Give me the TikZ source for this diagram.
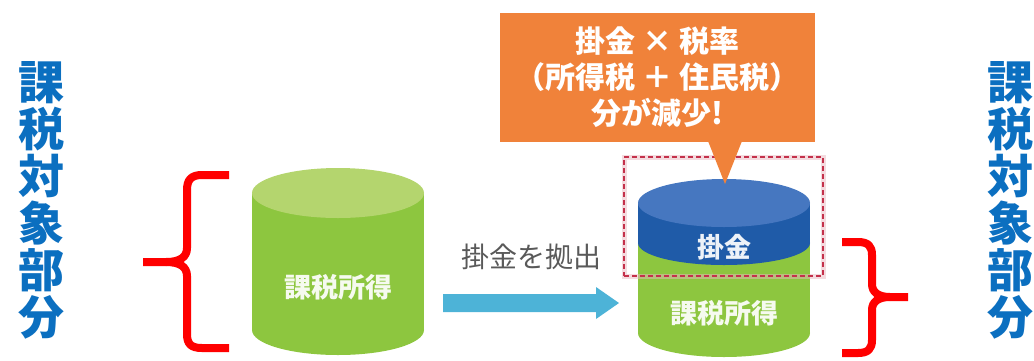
\documentclass[tikz,border=0pt]{standalone}
\usepackage{fontspec}
\newfontfamily\jp{Noto Sans CJK JP}
\definecolor{labelblue}{HTML}{0B6FC0}
\definecolor{bracered}{HTML}{FF0000}
\definecolor{cylgreen}{HTML}{8DC63F}
\definecolor{cylgreentop}{HTML}{B4D56E}
\definecolor{bandblue}{HTML}{1F5BA8}
\definecolor{bandbluetop}{HTML}{4677C0}
\definecolor{calloutorange}{HTML}{F0823A}
\definecolor{arrowblue}{HTML}{4DB3D7}
\definecolor{dashred}{HTML}{C4314B}
\definecolor{textgray}{HTML}{595959}
\tikzset{
  sidelabel/.style={text=labelblue, font=\jp\bfseries\fontsize{46}{47}\selectfont, align=center, inner sep=0pt},
  brace/.style={draw=bracered, line width=8pt, line join=round, line cap=butt},
  cyltext/.style={text=white, text opacity=0.92, font=\jp\bfseries\fontsize{27}{30}\selectfont, inner sep=0pt},
  calloutbox/.style={fill=calloutorange, inner sep=0pt, minimum width=315pt, minimum height=129pt,
    text=white, font=\jp\bfseries\fontsize{30}{36}\selectfont, align=center},
  focusbox/.style={draw=dashred, line width=2pt, dash pattern=on 5pt off 3pt, minimum width=199pt, minimum height=119pt, inner sep=0pt},
  steplabel/.style={text=textgray, font=\jp\fontsize{28}{30}\selectfont, inner sep=0pt}
}
\begin{document}
\begin{tikzpicture}[x=1pt,y=-1pt]
\useasboundingbox (0,0) rectangle (1034,360);

% side captions
\node[sidelabel] (lcap) at (42,200) {課\\税\\対\\象\\部\\分};
\node[sidelabel] (rcap) at (1010,200) {課\\税\\対\\象\\部\\分};

% left brace
\draw[brace] (229,175) -- (202,175) .. controls (191,175) and (187,180) .. (187,190) -- (187,248)
  .. controls (187,257) and (180,262) .. (166,262) -- (143,262);
\draw[brace] (166,262) .. controls (180,262) and (187,267) .. (187,276) -- (187,334)
  .. controls (187,344) and (191,348) .. (202,348) -- (229,348);

% right brace
\draw[brace] (842,242) -- (858,242) .. controls (868,242) and (872,246) .. (872,255) -- (872,284)
  .. controls (872,292) and (878,297) .. (890,297) -- (908,297);
\draw[brace] (890,297) .. controls (878,297) and (872,302) .. (872,310) -- (872,340)
  .. controls (872,349) and (868,353) .. (858,353) -- (842,353);

% left cylinder: taxable income
\fill[cylgreen] (252,193) rectangle (424,330);
\fill[cylgreen] (338,330) ellipse[x radius=86, y radius=25];
\fill[cylgreentop] (338,193) ellipse[x radius=86, y radius=25];
\node[cyltext] (lincome) at (338,287) {課税所得};

% right cylinder: taxable income with the premium band on top
\fill[cylgreen] (638,243) rectangle (810,333);
\fill[cylgreen] (724,333) ellipse[x radius=86, y radius=24];
\fill[bandblue] (724,243) ellipse[x radius=86, y radius=22];
\fill[bandblue] (638,203) rectangle (810,243);
\fill[bandbluetop] (724,203) ellipse[x radius=86, y radius=24];
\node[cyltext] (premium) at (724,247) {掛金};
\node[cyltext] (rincome) at (724,313) {課税所得};

% highlighted premium region
\node[draw=dashred!35, line width=5pt, opacity=0.5, minimum width=199pt, minimum height=119pt, inner sep=0pt] at (723.5,216.5) {};
\node[focusbox] (focus) at (723.5,216.5) {};

% contribution arrow
\coordinate (arrtail) at (443,303);
\coordinate (arrhead) at (619,303);
\fill[arrowblue] (arrtail) ++(0,-9) -- ++(153,0) -- ++(0,-7) -- (arrhead) -- ++(-23,16) -- ++(0,-7) -- ++(-153,0) -- cycle;
\node[steplabel] (contrib) at (531,257) {掛金を拠出};

% callout
\node[calloutbox] (callout) at (657.5,77.5) {掛金 × 税率\\（所得税 ＋ 住民税）\\分が減少!};
\fill[calloutorange] (708,141) -- (742,141) -- (725,184) -- cycle;
\end{tikzpicture}
\end{document}
